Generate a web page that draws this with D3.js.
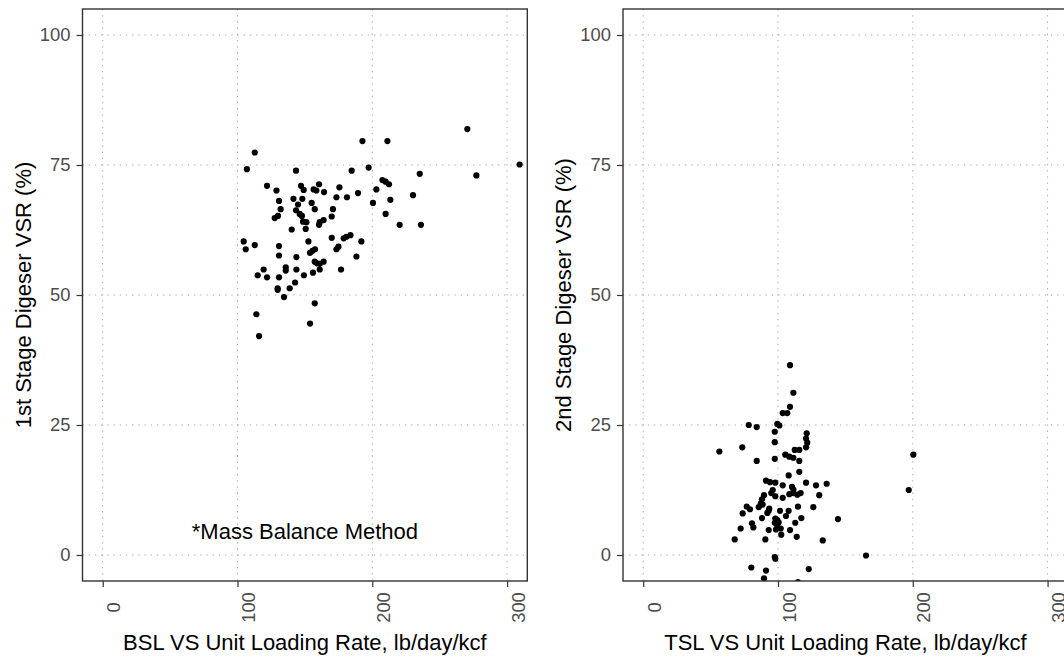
<!DOCTYPE html>
<html>
<head>
<meta charset="utf-8">
<script src="https://cdn.jsdelivr.net/npm/d3@7"></script>
<style>
  html, body { margin: 0; padding: 0; background: #ffffff; }
  svg { display: block; }
  text { font-family: "Liberation Sans", Arial, Helvetica, sans-serif; }
</style>
</head>
<body>
<svg id="chart" width="1064" height="658"></svg>
<script>
// First-stage digester: BSL volatile-solids unit loading vs. VSR
const stage1Loading = [
  192.7, 112.8, 107.0, 143.4, 184.7, 197.3, 121.9, 128.9, 147.1, 149.1,
  156.5, 158.5, 160.5, 164.2, 175.6, 203.0, 173.4, 181.2, 189.4, 200.5,
  130.8, 141.5, 148.1, 144.9, 155.0, 157.3, 132.0, 143.4, 146.1, 147.8,
  130.0, 127.6, 170.8, 169.9, 163.9, 161.0, 160.5, 148.6, 151.1, 150.6,
  140.2, 169.9, 178.8, 180.8, 183.8, 191.9, 104.6, 106.1, 112.8, 130.8,
  130.8, 152.6, 143.7, 153.8, 155.6, 157.5, 173.4, 174.9, 188.2, 157.3,
  159.0, 161.0, 163.9, 119.4, 115.0, 121.9, 135.8, 135.8, 143.7, 130.8,
  149.3, 156.0, 161.0, 176.8, 142.7, 138.7, 129.8, 129.8, 134.5, 157.3,
  114.0, 153.8, 116.0, 270.5, 211.2, 309.3, 235.2, 277.2, 207.5, 209.9,
  212.4, 213.4, 230.2, 209.9, 220.3, 236.1
];
const stage1VSR = [
  79.6, 77.4, 74.2, 73.9, 73.9, 74.5, 71.0, 70.1, 71.0, 70.2,
  70.3, 70.1, 71.3, 69.8, 70.7, 70.3, 68.8, 68.8, 69.6, 67.7,
  68.1, 68.5, 68.5, 67.4, 67.7, 66.5, 66.5, 66.3, 65.6, 65.2,
  65.2, 64.8, 66.5, 65.1, 64.4, 64.0, 63.5, 64.1, 64.0, 62.7,
  62.6, 61.0, 60.9, 61.2, 61.5, 60.3, 60.3, 58.8, 59.6, 59.4,
  57.6, 60.3, 57.3, 58.1, 58.5, 58.8, 58.8, 59.3, 57.4, 56.4,
  56.1, 56.0, 56.4, 54.9, 53.8, 53.4, 55.3, 54.7, 54.9, 53.4,
  53.8, 54.3, 54.9, 54.9, 52.4, 51.3, 51.3, 51.0, 49.6, 48.4,
  46.3, 44.5, 42.1, 81.9, 79.6, 75.1, 73.3, 73.0, 72.1, 71.8,
  71.3, 68.3, 69.2, 65.6, 63.5, 63.5
];

// Second-stage digester: TSL volatile-solids unit loading vs. VSR
const stage2Loading = [
  108.9, 111.4, 108.9, 103.5, 106.9, 78.3, 84.2, 99.5, 101.0, 97.6,
  121.3, 120.8, 121.7, 120.8, 97.6, 73.5, 56.5, 112.4, 115.8, 105.4,
  108.4, 111.4, 84.2, 97.6, 115.8, 115.8, 107.9, 91.1, 94.1, 98.0,
  103.5, 120.8, 128.2, 136.1, 110.4, 111.4, 96.1, 95.0, 89.6, 88.1,
  108.4, 111.4, 114.3, 116.8, 130.6, 103.5, 98.0, 87.2, 85.7, 88.6,
  76.8, 79.2, 73.8, 93.5, 92.1, 93.1, 101.5, 107.9, 114.8, 126.2,
  88.1, 98.0, 99.5, 100.5, 97.6, 105.9, 117.3, 112.8, 144.5, 80.7,
  81.7, 72.3, 99.5, 102.0, 98.5, 93.1, 108.9, 102.4, 113.9, 67.9,
  90.6, 133.2, 97.6, 98.0, 80.2, 91.1, 122.8, 89.6, 114.8, 200.4,
  197.0, 165.3
];
const stage2VSR = [
  36.5, 31.2, 28.5, 27.3, 27.3, 25.0, 24.6, 25.2, 24.9, 23.7,
  23.4, 22.4, 21.6, 20.7, 21.7, 20.7, 19.9, 20.2, 20.2, 19.3,
  18.9, 18.7, 18.1, 18.5, 18.1, 16.0, 15.3, 14.3, 14.0, 13.9,
  13.4, 13.9, 13.4, 13.7, 13.1, 12.6, 12.5, 11.9, 11.5, 10.7,
  11.7, 11.9, 11.6, 11.9, 11.5, 11.0, 11.3, 9.9, 9.2, 9.7,
  9.3, 8.8, 8.0, 8.9, 8.1, 8.5, 8.5, 8.5, 9.3, 9.2,
  7.1, 7.0, 6.7, 6.3, 6.2, 7.5, 7.1, 6.2, 6.9, 6.1,
  5.3, 5.1, 5.6, 5.1, 4.9, 4.8, 4.8, 3.9, 3.5, 3.0,
  3.0, 2.8, -0.4, -0.7, -2.4, -3.0, -2.7, -4.5, -5.2, 19.3,
  12.5, -0.1
];

const xTicks = [0, 100, 200, 300];
const yTicks = [0, 25, 50, 75, 100];
const xLimits = [0, 300];
const yLimits = [0, 100];

const panels = [
  {
    id: "p1", left: 82.5,
    xs: stage1Loading, ys: stage1VSR,
    xTitle: "BSL VS Unit Loading Rate, lb/day/kcf",
    yTitle: "1st Stage Digeser VSR (%)",
    note: { x: 150, y: 5, text: "*Mass Balance Method" }
  },
  {
    id: "p2", left: 623,
    xs: stage2Loading, ys: stage2VSR,
    xTitle: "TSL VS Unit Loading Rate, lb/day/kcf",
    yTitle: "2nd Stage Digeser VSR (%)",
    note: null
  }
];

const svg = d3.select("#chart");
const panelW = 444.8, panelH = 572, panelTop = 9;

// 5% padding on each side of the limits, as in ggplot's default expansion
function expand(lim) {
  const pad = (lim[1] - lim[0]) * 0.05;
  return [lim[0] - pad, lim[1] + pad];
}

const x = d3.scaleLinear().domain(expand(xLimits)).range([0, panelW]);
const y = d3.scaleLinear().domain(expand(yLimits)).range([panelH, 0]);

panels.forEach(p => {
  const g = svg.append("g").attr("transform", `translate(${p.left},${panelTop})`);

  g.append("defs").append("clipPath").attr("id", "clip-" + p.id)
    .append("rect").attr("width", panelW).attr("height", panelH);

  // dotted major grid
  const grid = g.append("g").attr("class", "grid");
  grid.selectAll("line.gx").data(xTicks).join("line")
    .attr("x1", d => x(d)).attr("x2", d => x(d))
    .attr("y1", 0).attr("y2", panelH);
  grid.selectAll("line.gy").data(yTicks).join("line")
    .attr("class", "gy")
    .attr("x1", 0).attr("x2", panelW)
    .attr("y1", d => y(d)).attr("y2", d => y(d));
  grid.selectAll("line")
    .attr("stroke", "#a8a8a8").attr("stroke-width", 1)
    .attr("stroke-dasharray", "1.3,4.9");

  // points
  const pts = d3.zip(p.xs, p.ys);
  g.append("g").attr("clip-path", `url(#clip-${p.id})`)
    .selectAll("circle").data(pts).join("circle")
    .attr("cx", d => x(d[0])).attr("cy", d => y(d[1]))
    .attr("r", 3.1).attr("fill", "#000");

  // annotation
  if (p.note) {
    g.append("text")
      .attr("x", x(p.note.x)).attr("y", y(p.note.y))
      .attr("dy", 2)
      .attr("text-anchor", "middle").attr("dominant-baseline", "central")
      .attr("font-size", 22).attr("fill", "#000")
      .text(p.note.text);
  }

  // panel border
  g.append("rect").attr("width", panelW).attr("height", panelH)
    .attr("fill", "none").attr("stroke", "#333").attr("stroke-width", 1.4);

  // y axis
  const yAxis = g.append("g").call(
    d3.axisLeft(y).tickValues(yTicks).tickSize(6).tickPadding(6).tickFormat(d3.format("d"))
  );
  yAxis.select(".domain").remove();
  yAxis.selectAll(".tick line").attr("stroke", "#333").attr("stroke-width", 1.2);
  yAxis.selectAll(".tick text")
    .attr("font-size", 18.4).attr("fill", "#4d4d4d")
    .attr("font-family", "Liberation Sans, Arial, sans-serif");

  // x axis with labels turned vertical
  const xAxis = g.append("g").attr("transform", `translate(0,${panelH})`).call(
    d3.axisBottom(x).tickValues(xTicks).tickSize(6).tickFormat(d3.format("d"))
  );
  xAxis.select(".domain").remove();
  xAxis.selectAll(".tick line").attr("stroke", "#333").attr("stroke-width", 1.2);
  xAxis.selectAll(".tick text")
    .attr("font-size", 18.4).attr("fill", "#4d4d4d")
    .attr("font-family", "Liberation Sans, Arial, sans-serif")
    .attr("text-anchor", "middle")
    .attr("dy", null)
    .attr("transform", "translate(17,26.5) rotate(-90)")
    .attr("x", 0).attr("y", 0);

  // axis titles
  g.append("text")
    .attr("x", panelW / 2).attr("y", 641)
    .attr("text-anchor", "middle").attr("font-size", 22).attr("fill", "#000")
    .text(p.xTitle);
  g.append("text")
    .attr("transform", `translate(-52,${panelH / 2}) rotate(-90)`)
    .attr("text-anchor", "middle").attr("font-size", 22).attr("fill", "#000")
    .text(p.yTitle);
});
</script>
</body>
</html>
